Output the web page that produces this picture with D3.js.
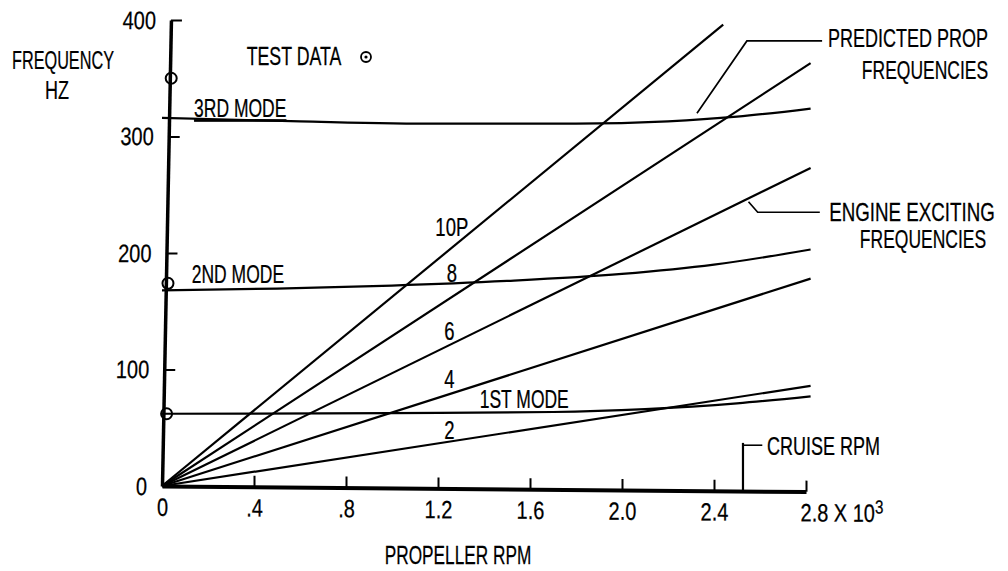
<!DOCTYPE html>
<meta charset="utf-8">
<script src="https://cdnjs.cloudflare.com/ajax/libs/d3/7.8.5/d3.min.js"></script>
<style>
body { margin: 0; background: #fff; }
text { font-family: "Liberation Sans", Arial, sans-serif; fill: #000; stroke: #000; stroke-width: 0.25px; }
</style>
<body>
<script>
// values (rpm in 10^3, frequency in Hz)
var orderLabels = ["2", "4", "6", "8", "10P"];
var orderEndRpm = [2.82, 2.82, 2.82, 2.82, 2.44];
var orderEndHz = [86, 178, 273, 363, 396];
var orderLabelRpm = [1.25, 1.25, 1.25, 1.26, 1.26];
var orderLabelHz = [48, 92, 133, 183, 222];

var modeNames = ["1ST MODE", "2ND MODE", "3RD MODE"];
var mode1Rpm = [0, 1.0, 1.7, 2.1, 2.5, 2.82];
var mode1Hz = [62, 62.5, 63.5, 66, 71, 77];
var mode2Rpm = [0, 0.5, 1.0, 1.5, 2.0, 2.4, 2.82];
var mode2Hz = [168, 169.5, 172, 176, 182, 190, 203];
var mode3Rpm = [0, 0.6, 1.2, 1.8, 2.2, 2.5, 2.82];
var mode3Hz = [316, 313, 311, 311, 313, 317, 324];
var modeLabelRpm = [1.575, 0.33, 0.34];
var modeLabelHz = [74.7, 182, 324.5];

var testRpm = [0.02, 0.026, 0.04];
var testHz = [62, 174, 350];

var xTicks = [0, 0.4, 0.8, 1.2, 1.6, 2.0, 2.4, 2.8];
var xTickLabels = ["0", ".4", ".8", "1.2", "1.6", "2.0", "2.4", "2.8 X 10"];
var yTicks = [0, 100, 200, 300, 400];

var cruiseRpm = 2.526;
var predLeaderRpm = [2.326, 2.543, 2.87];
var predLeaderHz = [320, 382, 382];
var engLeaderRpm = [2.55, 2.59, 2.86];
var engLeaderHz = [244, 235, 235];

var w = 1008, h = 571;
var FS = 25, SX = 0.72;   // narrow lettering: big font squeezed sideways
var TICK_SX = 0.8;

var svg = d3.select("body").append("svg")
    .attr("width", w)
    .attr("height", h);

var x = d3.scaleLinear().domain([0, 2.8]).range([162, 806]);
var y = d3.scaleLinear().domain([0, 400]).range([486, 20]);

var line = d3.line()
    .x(function(d) { return x(d[0]); })
    .y(function(d) { return y(d[1]); });
var curve = d3.line()
    .x(function(d) { return x(d[0]); })
    .y(function(d) { return y(d[1]); })
    .curve(d3.curveMonotoneX);

function pairs(a, b) { return a.map(function(v, i) { return [v, b[i]]; }); }

function label(px, py, s, anchor, sx) {
  return svg.append("text")
    .attr("transform", "translate(" + px + "," + (py + FS * 0.36) + ") scale(" + (sx || SX) + ",1)")
    .attr("text-anchor", anchor || "middle")
    .style("font-size", FS + "px")
    .text(s);
}

function squeezeTicks(g) {
  g.selectAll(".tick text")
    .attr("font-family", null)
    .style("font-size", FS + "px")
    .attr("x", function() { return (+d3.select(this).attr("x") || 0) / TICK_SX; })
    .attr("transform", "scale(" + TICK_SX + ",1)");
}

//x axis (ticks pointing up, slight tilt like the original)
var xg = svg.append("g")
    .attr("transform", "translate(162,486) skewY(0.5) translate(-162,-486)")
  .append("g")
    .attr("transform", "translate(0," + y(0) + ")")
    .call(d3.axisBottom(x).tickValues(xTicks).tickSize(-11).tickSizeOuter(0).tickPadding(12)
      .tickFormat(function(d, i) { return xTickLabels[i]; }));
xg.select(".domain").attr("stroke-width", 4);
xg.selectAll(".tick line").attr("stroke-width", 2);
var last = xg.selectAll(".tick text").filter(function(d, i) { return i === xTicks.length - 1; });
last.attr("text-anchor", "start").attr("x", -6);
last.append("tspan").attr("dy", "-0.45em").style("font-size", "19px").text("3");
squeezeTicks(xg);

//y axis (ticks pointing right, slight tilt)
var yg = svg.append("g")
    .attr("transform", "translate(162,486) skewX(-1.1) translate(-162,-486)")
  .append("g")
    .attr("transform", "translate(" + x(0) + ",0)")
    .call(d3.axisLeft(y).tickValues(yTicks).tickSize(-11).tickSizeOuter(0).tickPadding(15));
yg.select(".domain").attr("stroke-width", 3.5);
yg.selectAll(".tick line").attr("stroke-width", 2);
squeezeTicks(yg);

//order lines from origin
svg.selectAll(".order").data(orderLabels).enter().append("path")
    .attr("class", "order")
    .attr("d", function(d, i) { return line([[0, 0], [orderEndRpm[i], orderEndHz[i]]]); })
    .attr("fill", "none").attr("stroke", "#000").attr("stroke-width", 2.2);

orderLabels.forEach(function(s, i) {
  label(x(orderLabelRpm[i]), y(orderLabelHz[i]), s, "middle", 0.74);
});

//predicted mode curves
var modes = [pairs(mode1Rpm, mode1Hz), pairs(mode2Rpm, mode2Hz), pairs(mode3Rpm, mode3Hz)];
svg.selectAll(".mode").data(modes).enter().append("path")
    .attr("class", "mode")
    .attr("d", curve)
    .attr("fill", "none").attr("stroke", "#000").attr("stroke-width", 2.2);

modeNames.forEach(function(s, i) {
  var t = label(x(modeLabelRpm[i]), y(modeLabelHz[i]), s, "middle", 0.7);
  if (i === 2) t.style("text-decoration", "underline");
});

//test data points
svg.selectAll(".test").data(testRpm).enter().append("circle")
    .attr("class", "test")
    .attr("cx", function(d) { return x(d); })
    .attr("cy", function(d, i) { return y(testHz[i]); })
    .attr("r", 5.5)
    .attr("fill", "none").attr("stroke", "#000").attr("stroke-width", 2);

//legend
label(294, 56, "TEST DATA", "middle", 0.71);
svg.append("circle").attr("cx", 366).attr("cy", 57).attr("r", 5)
    .attr("fill", "none").attr("stroke", "#000").attr("stroke-width", 1.8);
svg.append("circle").attr("cx", 366).attr("cy", 57).attr("r", 1.6).attr("fill", "#000");

//leaders
svg.append("path").attr("d", line(pairs(predLeaderRpm, predLeaderHz)))
    .attr("fill", "none").attr("stroke", "#000").attr("stroke-width", 1.7);
svg.append("path").attr("d", line(pairs(engLeaderRpm, engLeaderHz)))
    .attr("fill", "none").attr("stroke", "#000").attr("stroke-width", 1.7);

label(908, 38, "PREDICTED PROP", "middle", 0.72);
label(925, 70, "FREQUENCIES", "middle", 0.7);
label(912, 212, "ENGINE EXCITING", "middle", 0.75);
label(923, 239, "FREQUENCIES", "middle", 0.7);

//cruise rpm marker
svg.append("path").attr("d", line([[cruiseRpm, -6], [cruiseRpm, 37]]))
    .attr("stroke", "#000").attr("stroke-width", 2.2);
svg.append("path").attr("d", line([[cruiseRpm, 35], [2.61, 35]]))
    .attr("stroke", "#000").attr("stroke-width", 1.6);
label(767, 446, "CRUISE RPM", "start", 0.72);

//axis titles
label(63, 60, "FREQUENCY", "middle", 0.65);
label(57, 90, "HZ", "middle", 0.72);
label(458, 555, "PROPELLER RPM", "middle", 0.69);
</script>
</body>
</html>
